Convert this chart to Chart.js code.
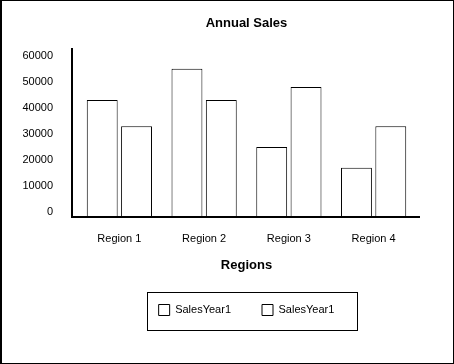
<!DOCTYPE html>
<html>
<head>
<meta charset="utf-8">
<script src="https://cdn.jsdelivr.net/npm/chart.js@4"></script>
<style>
  html, body { margin: 0; padding: 0; background: #fff; }
  #wrap { width: 454px; height: 364px; }
</style>
</head>
<body>
<div id="wrap"><canvas id="salesChart" width="454" height="364"></canvas></div>
<script>
// Data
const regions = ['Region 1', 'Region 2', 'Region 3', 'Region 4'];
const salesA = [43000, 55000, 25000, 17000];
const salesB = [33000, 43000, 48000, 33000];
const seriesNames = ['SalesYear1', 'SalesYear1'];
const yTicks = [0, 10000, 20000, 30000, 40000, 50000, 60000];
const Y_MIN = -1500;
const Y_MAX = 63000;

Chart.defaults.font.family = '"Liberation Sans", Arial, sans-serif';
Chart.defaults.font.size = 11;
Chart.defaults.color = '#000';

// frame round the picture + black axis lines + box round the legend
const framePlugin = {
  id: 'frame',
  beforeDraw(chart) {
    const ctx = chart.ctx;
    ctx.save();
    ctx.fillStyle = '#fff';
    ctx.fillRect(0, 0, chart.width, chart.height);
    ctx.restore();
  },
  afterDraw(chart) {
    const ctx = chart.ctx;
    const a = chart.chartArea;
    ctx.save();
    ctx.strokeStyle = '#000';
    ctx.lineWidth = 1;
    ctx.strokeRect(0.5, 0.5, chart.width - 1, chart.height - 1);
    ctx.fillStyle = '#000';
    ctx.fillRect(0, 0, 2, chart.height);

    // axes
    ctx.lineWidth = 2;
    ctx.beginPath();
    ctx.moveTo(a.left - 5, a.top);
    ctx.lineTo(a.left - 5, a.bottom + 2);
    ctx.moveTo(a.left - 6, a.bottom + 1);
    ctx.lineTo(a.right + 4, a.bottom + 1);
    ctx.stroke();

    // legend box
    const hb = chart.legend.legendHitBoxes;
    if (hb && hb.length) {
      const first = hb[0];
      const last = hb[hb.length - 1];
      const x0 = Math.round(first.left - 12) + 0.5;
      const x1 = Math.round(last.left + last.width + 23) + 0.5;
      const y0 = Math.round(first.top - 12.5) + 0.5;
      const y1 = Math.round(first.top + first.height + 14.5) + 0.5;
      ctx.lineWidth = 1;
      ctx.strokeRect(x0, y0, x1 - x0, y1 - y0);
    }
    ctx.restore();
  },
};

const data = {
  labels: regions,
  datasets: [
    {
      label: seriesNames[0],
      data: salesA,
      backgroundColor: '#fff',
      borderColor: '#000',
      borderWidth: 1,
      base: Y_MIN,
    },
    {
      label: seriesNames[1],
      data: salesB,
      backgroundColor: '#fff',
      borderColor: '#000',
      borderWidth: 1,
      base: Y_MIN,
    },
  ],
};

const config = {
  type: 'bar',
  data: data,
  plugins: [framePlugin],
  options: {
    responsive: false,
    animation: false,
    devicePixelRatio: 1,
    categoryPercentage: 0.81,
    barPercentage: 0.9,
    layout: {
      padding: { left: 20, right: 38, top: 0, bottom: 38.5 },
    },
    plugins: {
      title: {
        display: true,
        fullSize: false,
        text: 'Annual Sales',
        color: '#000',
        font: { size: 13, weight: 'bold' },
        padding: { top: 15.5, bottom: 16.9 },
      },
      legend: {
        display: true,
        fullSize: false,
        position: 'bottom',
        labels: {
          boxWidth: 11,
          boxHeight: 11,
          padding: 31,
          color: '#000',
          font: { size: 11 },
        },
      },
      tooltip: { enabled: false },
    },
    scales: {
      x: {
        grid: { display: false, drawTicks: false },
        border: { display: false },
        ticks: { padding: 16, color: '#000', font: { size: 11 } },
        title: {
          display: true,
          text: 'Regions',
          color: '#000',
          font: { size: 13, weight: 'bold' },
          padding: { top: 0, bottom: 0 },
        },
        afterFit(scale) {
          scale.height = 57.5;
        },
      },
      y: {
        min: Y_MIN,
        max: Y_MAX,
        grid: { display: false, drawTicks: false },
        border: { display: false },
        ticks: {
          padding: 24,
          color: '#000',
          font: { size: 11 },
          callback: (v) => String(v),
        },
        afterBuildTicks(axis) {
          axis.ticks = yTicks.map((v) => ({ value: v }));
        },
        afterFit(scale) {
          scale.width = 57;
        },
      },
    },
  },
};

new Chart(document.getElementById('salesChart'), config);
</script>
</body>
</html>
